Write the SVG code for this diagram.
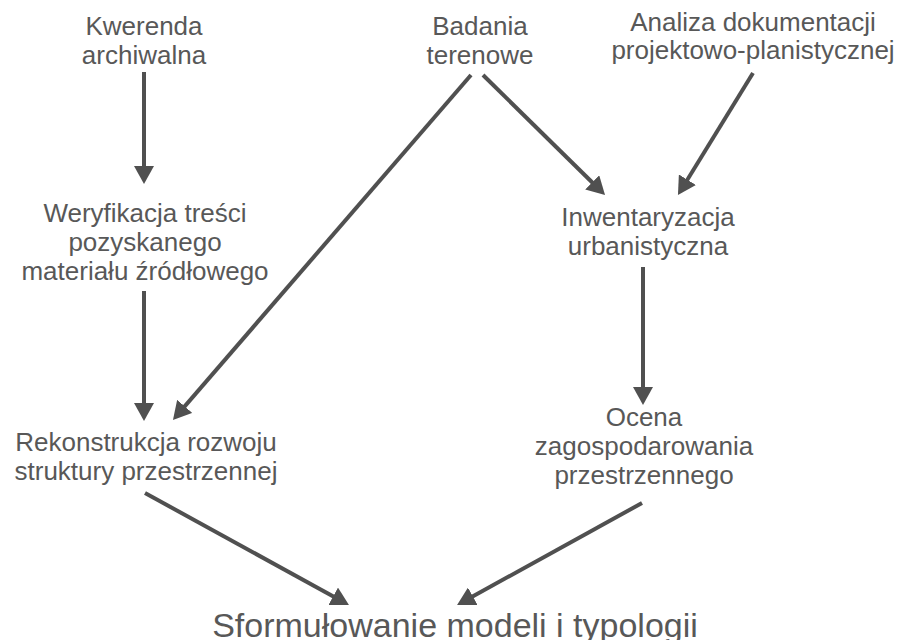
<svg xmlns="http://www.w3.org/2000/svg" width="903" height="640" viewBox="0 0 903 640">
<defs>
<style>
text{font-family:"Liberation Sans",Arial,sans-serif;font-size:26px;fill:#585858;text-anchor:middle}
.big{font-size:34px}
.c line{stroke:#505050;stroke-width:4;marker-end:url(#ah)}
</style>
<marker id="ah" markerUnits="userSpaceOnUse" viewBox="0 0 18 20" markerWidth="18" markerHeight="20" refX="8" refY="10" orient="auto">
<path d="M0,0 L18,10 L0,20 z" fill="#505050"/>
</marker>
</defs>
<rect width="903" height="640" fill="#fff"/>
<g class="c" id="connectors">
<line x1="144" y1="72" x2="144" y2="174"/>
<line x1="144" y1="291" x2="144" y2="411"/>
<line x1="471" y1="75" x2="179.5" y2="412.4"/>
<line x1="483" y1="75" x2="597.9" y2="188"/>
<line x1="753" y1="73" x2="683.2" y2="186.5"/>
<line x1="643" y1="267" x2="643" y2="395"/>
<line x1="145" y1="493" x2="340.2" y2="600.2"/>
<line x1="642" y1="503" x2="465.8" y2="600.2"/>
</g>
<g id="kwerenda"><text x="144" y="35">Kwerenda</text><text x="144" y="64">archiwalna</text></g>
<g id="badania"><text x="480" y="35">Badania</text><text x="480" y="64">terenowe</text></g>
<g id="analiza"><text x="753" y="31">Analiza dokumentacji</text><text x="753" y="59">projektowo-planistycznej</text></g>
<g id="weryfikacja"><text x="145" y="222">Weryfikacja treści</text><text x="145" y="251">pozyskanego</text><text x="145" y="280">materiału źródłowego</text></g>
<g id="inwentaryzacja"><text x="648" y="226">Inwentaryzacja</text><text x="648" y="255">urbanistyczna</text></g>
<g id="rekonstrukcja"><text x="146" y="451">Rekonstrukcja rozwoju</text><text x="146" y="480">struktury przestrzennej</text></g>
<g id="ocena"><text x="644" y="426">Ocena</text><text x="644" y="455">zagospodarowania</text><text x="644" y="484">przestrzennego</text></g>
<g id="sformulowanie"><text class="big" x="455" y="637">Sformułowanie modeli i typologii</text></g>
</svg>
